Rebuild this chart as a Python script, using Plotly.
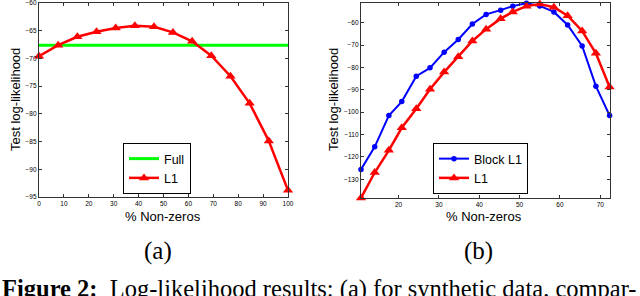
import plotly.graph_objects as go

# ---- data ----
a_x = [0, 7.7, 15.4, 23.1, 30.8, 38.5, 46.2, 53.8, 61.5, 69.2, 76.9, 84.6, 92.3, 100]
a_l1 = [-69.6, -67.6, -66.1, -65.2, -64.5, -64.1, -64.3, -65.3, -66.9, -69.5, -73.2, -78.1, -84.9, -93.8]
a_full_x = [0, 100]
a_full = [-67.6, -67.6]

b_x = [10.7, 14.1, 17.6, 20.8, 24.4, 27.8, 31.3, 34.8, 38.3, 41.7, 45.3, 48.3, 51.7, 55.0, 58.5, 61.9, 65.5, 68.9, 72.3]
b_block = [-125.6, -115.5, -101.5, -95.3, -83.9, -80.2, -73.2, -67.5, -60.6, -56.3, -54.4, -52.6, -51.3, -52.5, -55.2, -61.0, -70.4, -88.4, -101.5]
b_l1 = [-138.4, -127.0, -117.1, -107.0, -98.5, -89.8, -82.1, -75.2, -68.2, -62.9, -58.2, -55.2, -52.6, -51.7, -53.1, -56.9, -63.7, -73.7, -88.8]

a_xticks = [0, 10, 20, 30, 40, 50, 60, 70, 80, 90, 100]
a_yticks = [-60, -65, -70, -75, -80, -85, -90, -95]
b_xticks = [20, 30, 40, 50, 60, 70]
b_yticks = [-60, -70, -80, -90, -100, -110, -120, -130]

W, H = 640, 296
SANS = "Liberation Sans, Arial, sans-serif"
SERIF = "Liberation Serif, Times New Roman, serif"

fig = go.Figure()
fig.add_trace(go.Scatter(x=a_full_x, y=a_full, mode="lines", name="Full",
                         line=dict(color="#00ff00", width=3), xaxis="x", yaxis="y",
                         legend="legend", cliponaxis=False))
fig.add_trace(go.Scatter(x=a_x, y=a_l1, mode="lines+markers", name="L1",
                         line=dict(color="#ff0000", width=2.5),
                         marker=dict(symbol="triangle-up", size=9, color="#ff0000"),
                         xaxis="x", yaxis="y", legend="legend", cliponaxis=False))
fig.add_trace(go.Scatter(x=b_x, y=b_block, mode="lines+markers", name="Block L1",
                         line=dict(color="#0000ff", width=2),
                         marker=dict(symbol="circle", size=5.5, color="#0000ff"),
                         xaxis="x2", yaxis="y2", legend="legend2", cliponaxis=False))
fig.add_trace(go.Scatter(x=b_x, y=b_l1, mode="lines+markers", name="L1",
                         line=dict(color="#ff0000", width=2.5),
                         marker=dict(symbol="triangle-up", size=9, color="#ff0000"),
                         xaxis="x2", yaxis="y2", legend="legend2", cliponaxis=False))

def px_x(p):
    return p / W

def px_y(p):
    return 1 - p / H

axis_common = dict(showgrid=False, zeroline=False, showline=True, linecolor="#333333",
                   linewidth=1.2, mirror="ticks", ticks="inside", ticklen=3,
                   tickcolor="#333333", automargin=False, ticklabeloverflow="allow",
                   tickfont=dict(family=SANS, size=6.5, color="black"))

fig.update_layout(
    template="none",
    width=W, height=H, margin=dict(l=0, r=0, t=0, b=0, pad=0, autoexpand=False),
    paper_bgcolor="white", plot_bgcolor="white",
    xaxis=dict(domain=[px_x(39), px_x(288)], range=[0, 100], tickvals=a_xticks,
               anchor="y", **axis_common),
    yaxis=dict(domain=[px_y(197), px_y(3)], range=[-95, -60], tickvals=a_yticks,
               anchor="x", **axis_common),
    xaxis2=dict(domain=[px_x(361), px_x(610)], range=[10.7, 72.4], tickvals=b_xticks,
                anchor="y2", **axis_common),
    yaxis2=dict(domain=[px_y(198), px_y(3)], range=[-138.4, -51.2], tickvals=b_yticks,
                anchor="x2", **axis_common),
    legend=dict(x=px_x(191), xanchor="right", y=px_y(194), yanchor="bottom",
                bordercolor="black", borderwidth=1, bgcolor="white",
                font=dict(family=SANS, size=12.5, color="black"), itemwidth=30,
                tracegroupgap=0),
    legend2=dict(x=px_x(528), xanchor="right", y=px_y(194), yanchor="bottom",
                 bordercolor="black", borderwidth=1, bgcolor="white",
                 font=dict(family=SANS, size=12.5, color="black"), itemwidth=30,
                 tracegroupgap=0),
    showlegend=True,
)

def note(text, x, y, size, family=SANS, angle=0, xanchor="center"):
    return dict(text=text, x=px_x(x), y=px_y(y), xref="paper", yref="paper",
                xanchor=xanchor, yanchor="middle", showarrow=False, textangle=angle,
                font=dict(family=family, size=size, color="black"))

ann = [
    note("% Non-zeros", 163, 216, 13),
    note("% Non-zeros", 484, 216, 13),
    note("Test log-likelihood", 15, 100, 13, angle=-90),
    note("Test log-likelihood", 333, 100, 13, angle=-90),
    note("(a)", 158, 251, 25, family=SERIF),
    note("(b)", 478, 251, 25, family=SERIF),
    note("<b>Figure 2:</b>  Log-likelihood results: (a) for synthetic data, compar-",
         0, 289, 24.5, family=SERIF, xanchor="left"),
]
fig.update_layout(annotations=ann)

fig.write_html("out.html", config={"displayModeBar": False},
               post_script="document.body.style.margin='0px';")
